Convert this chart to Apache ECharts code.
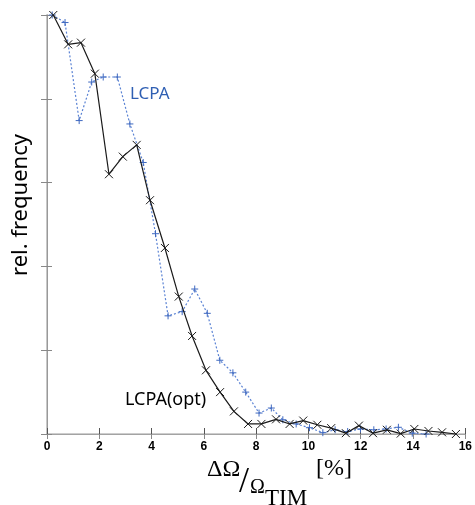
<!DOCTYPE html>
<html>
<head>
<meta charset="utf-8">
<script src="https://cdn.jsdelivr.net/npm/echarts@6/dist/echarts.min.js"></script>
<style>
  html, body { margin: 0; padding: 0; background: #fff; }
  #chart { width: 475px; height: 505px; }
</style>
</head>
<body>
<div id="chart"></div>
<script>
// Tick labels along the bottom axis
const xTicks = [0, 2, 4, 6, 8, 10, 12, 14, 16];

// LCPA histogram (blue, dotted, "+" markers)
const lcpaX = [0.20, 0.69, 1.23, 1.71, 2.15, 2.69, 3.17, 3.68, 4.15, 4.63, 5.17, 5.65, 6.13, 6.61, 7.11,
               7.60, 8.11, 8.58, 9.02, 9.53, 10.04, 10.55, 11.02, 11.50, 11.99, 12.50, 12.97, 13.44, 13.97, 14.50];
const lcpaY = [5.00, 4.91, 3.74, 4.20, 4.26, 4.26, 3.70, 3.24, 2.39, 1.41, 1.46, 1.73, 1.44, 0.88, 0.73,
               0.50, 0.25, 0.31, 0.17, 0.12, 0.075, 0.016, 0.05, 0.03, 0.06, 0.05, 0.06, 0.08, 0.01, 0.00];

// LCPA(opt) histogram (black, solid, "x" markers)
const optX = [0.24, 0.81, 1.30, 1.83, 2.37, 2.90, 3.43, 3.94, 4.51, 5.04, 5.55, 6.08, 6.62, 7.15, 7.69,
              8.20, 8.76, 9.28, 9.80, 10.34, 10.87, 11.43, 11.93, 12.47, 13.00, 13.53, 14.05, 14.59, 15.11, 15.64];
const optY = [5.00, 4.65, 4.67, 4.30, 3.10, 3.31, 3.45, 2.79, 2.22, 1.64, 1.17, 0.76, 0.50, 0.27, 0.12,
              0.12, 0.175, 0.12, 0.16, 0.11, 0.07, 0.01, 0.10, 0.01, 0.05, 0.005, 0.06, 0.036, 0.02, 0.00];

const pair = (xs, ys) => xs.map((x, i) => [x, ys[i]]);

const crossSymbol = 'path://M0,0L1,1M1,0L0,1';
const plusSymbol = 'path://M0.5,0L0.5,1M0,0.5L1,0.5';

const chart = echarts.init(document.getElementById('chart'), null, { renderer: 'canvas' });

const hiddenLabels = { show: false };

chart.setOption({
  animation: false,
  backgroundColor: '#ffffff',
  grid: { left: 47, right: 9, top: 15, bottom: 71 },
  xAxis: [
    {
      type: 'value', position: 'bottom',
      min: xTicks[0], max: xTicks[xTicks.length - 1], interval: 2,
      axisLine: { lineStyle: { color: '#555', width: 1 } },
      axisTick: { inside: true, length: 6, lineStyle: { color: '#555' } },
      axisLabel: {
        margin: 7, color: '#000', fontSize: 12, fontWeight: 'bold',
        fontFamily: 'Liberation Sans, Arial, sans-serif'
      },
      splitLine: { show: false }
    },
    {
      type: 'value', position: 'top',
      min: xTicks[0], max: xTicks[xTicks.length - 1], interval: 2,
      axisLine: { lineStyle: { color: '#bdbdbd', width: 1.5 } },
      axisTick: { inside: true, length: 5, lineStyle: { color: '#888' } },
      axisLabel: hiddenLabels,
      splitLine: { show: false }
    }
  ],
  yAxis: [
    {
      type: 'value', position: 'left', min: 0, max: 5, interval: 1,
      axisLine: { show: true, lineStyle: { color: '#c8c8c8', width: 2 } },
      axisTick: { show: true, inside: true, length: 5, lineStyle: { color: '#888' } },
      axisLabel: hiddenLabels,
      splitLine: { show: false }
    },
    {
      type: 'value', position: 'right', min: 0, max: 5, interval: 1,
      axisLine: { show: true, lineStyle: { color: '#999', width: 1 } },
      axisTick: { show: true, inside: true, length: 6, lineStyle: { color: '#888' } },
      axisLabel: hiddenLabels,
      splitLine: { show: false }
    }
  ],
  series: [
    {
      name: 'LCPA', type: 'line', xAxisIndex: 0, yAxisIndex: 0,
      data: pair(lcpaX, lcpaY),
      clip: false,
      symbol: plusSymbol, symbolSize: 7,
      itemStyle: { color: '#3f69c0', borderColor: '#3f69c0', borderWidth: 1 },
      lineStyle: { color: '#5b83d4', width: 1.2, type: [2, 2] },
      z: 2
    },
    {
      name: 'LCPA(opt)', type: 'line', xAxisIndex: 0, yAxisIndex: 0,
      data: pair(optX, optY),
      clip: false,
      symbol: crossSymbol, symbolSize: 8,
      itemStyle: { color: '#1a1a1a', borderColor: '#1a1a1a', borderWidth: 1 },
      lineStyle: { color: '#1a1a1a', width: 1.2 },
      z: 3
    }
  ],
  graphic: [
    {
      type: 'text', x: 130, y: 94,
      style: { text: 'LCPA', fill: '#2f5fb3', font: '17px "Noto Sans", sans-serif',
               align: 'left', verticalAlign: 'middle' }
    },
    {
      type: 'text', x: 125, y: 400,
      style: { text: 'LCPA(opt)', fill: '#000', font: '18px "Noto Sans", sans-serif',
               align: 'left', verticalAlign: 'middle' }
    },
    {
      type: 'text', x: 21, y: 205, rotation: Math.PI / 2,
      style: { text: 'rel. frequency', fill: '#000', font: '22px "Noto Sans", sans-serif',
               align: 'center', verticalAlign: 'middle' }
    },
    // x-axis title: ΔΩ / Ω_TIM [%]
    {
      type: 'text', x: 207, y: 470,
      style: { text: 'ΔΩ', fill: '#000', font: '24px "Liberation Serif", serif',
               align: 'left', verticalAlign: 'middle' }
    },
    {
      type: 'text', x: 239, y: 483,
      style: { text: '/', fill: '#000', font: '36px "Liberation Serif", serif',
               align: 'left', verticalAlign: 'middle' }
    },
    {
      type: 'text', x: 250, y: 488,
      style: { text: 'Ω', fill: '#000', font: '20px "Liberation Serif", serif',
               align: 'left', verticalAlign: 'middle' }
    },
    {
      type: 'text', x: 265, y: 499,
      style: { text: 'TIM', fill: '#000', font: '23px "Liberation Serif", serif',
               align: 'left', verticalAlign: 'middle' }
    },
    {
      type: 'text', x: 316, y: 469,
      style: { text: '[%]', fill: '#000', font: '24px "Liberation Serif", serif',
               align: 'left', verticalAlign: 'middle' }
    }
  ]
});
</script>
</body>
</html>
